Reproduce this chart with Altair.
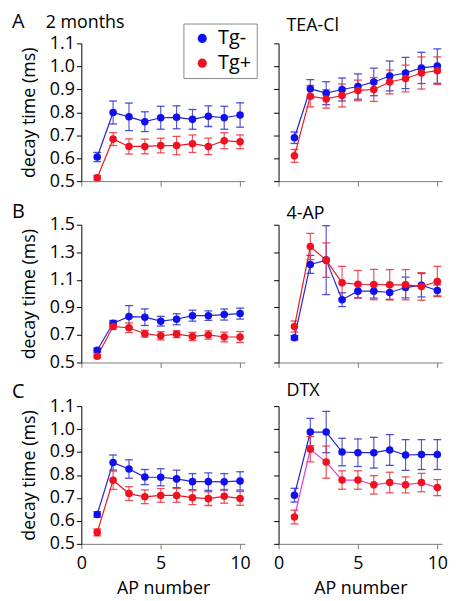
import altair as alt
import pandas as pd

FONT = "Open Sans"
AP = list(range(1, 11))
GROUPS = ["Tg-", "Tg+"]

# ---- panel data (mean, s.e.m.) ----
A1_minus = [0.605, 0.799, 0.780, 0.759, 0.776, 0.778, 0.769, 0.783, 0.776, 0.788]
A1_minus_err = [0.020, 0.050, 0.060, 0.043, 0.050, 0.050, 0.043, 0.045, 0.050, 0.053]
A1_plus = [0.515, 0.683, 0.651, 0.651, 0.655, 0.655, 0.663, 0.651, 0.676, 0.671]
A1_plus_err = [0.010, 0.028, 0.033, 0.032, 0.032, 0.040, 0.038, 0.036, 0.035, 0.030]

A2_minus = [0.689, 0.902, 0.883, 0.899, 0.912, 0.932, 0.958, 0.971, 0.993, 1.001]
A2_minus_err = [0.025, 0.040, 0.050, 0.050, 0.055, 0.060, 0.065, 0.068, 0.068, 0.075]
A2_plus = [0.610, 0.870, 0.858, 0.873, 0.895, 0.899, 0.932, 0.947, 0.971, 0.981]
A2_plus_err = [0.028, 0.047, 0.040, 0.050, 0.045, 0.052, 0.052, 0.058, 0.070, 0.060]

B1_minus = [0.589, 0.785, 0.833, 0.829, 0.800, 0.814, 0.840, 0.840, 0.848, 0.855]
B1_minus_err = [0.015, 0.020, 0.080, 0.060, 0.035, 0.040, 0.040, 0.035, 0.040, 0.040]
B1_plus = [0.546, 0.761, 0.752, 0.709, 0.694, 0.706, 0.689, 0.700, 0.685, 0.685]
B1_plus_err = [0.012, 0.020, 0.035, 0.025, 0.030, 0.025, 0.030, 0.030, 0.035, 0.040]

B2_minus = [0.680, 1.212, 1.243, 0.956, 1.018, 1.018, 1.008, 1.044, 1.061, 1.023]
B2_minus_err = [0.015, 0.065, 0.250, 0.050, 0.050, 0.050, 0.050, 0.075, 0.085, 0.040]
B2_plus = [0.761, 1.342, 1.243, 1.078, 1.068, 1.066, 1.064, 1.064, 1.052, 1.088]
B2_plus_err = [0.040, 0.095, 0.125, 0.120, 0.100, 0.110, 0.110, 0.110, 0.100, 0.110]

C1_minus = [0.628, 0.854, 0.826, 0.791, 0.790, 0.783, 0.771, 0.771, 0.770, 0.774]
C1_minus_err = [0.012, 0.033, 0.040, 0.033, 0.037, 0.038, 0.035, 0.038, 0.036, 0.040]
C1_plus = [0.550, 0.777, 0.719, 0.705, 0.711, 0.711, 0.701, 0.697, 0.707, 0.698]
C1_plus_err = [0.015, 0.040, 0.030, 0.030, 0.030, 0.030, 0.030, 0.030, 0.030, 0.030]

C2_minus = [0.712, 0.987, 0.987, 0.900, 0.897, 0.897, 0.909, 0.887, 0.889, 0.889]
C2_minus_err = [0.030, 0.060, 0.090, 0.060, 0.060, 0.067, 0.067, 0.067, 0.065, 0.065]
C2_plus = [0.617, 0.912, 0.856, 0.778, 0.778, 0.757, 0.767, 0.757, 0.767, 0.745]
C2_plus_err = [0.030, 0.055, 0.070, 0.040, 0.040, 0.040, 0.045, 0.035, 0.040, 0.035]

TICKS_SMALL = [0.5, 0.6, 0.7, 0.8, 0.9, 1.0, 1.1]
TICKS_LARGE = [0.5, 0.7, 0.9, 1.1, 1.3, 1.5]

PANELS = [
    dict(letter="A", title="2 months", m=A1_minus, me=A1_minus_err, p=A1_plus, pe=A1_plus_err,
         ticks=TICKS_SMALL, left=True, bottom=False, legend=True, ty=-16),
    dict(letter="", title="TEA-Cl", m=A2_minus, me=A2_minus_err, p=A2_plus, pe=A2_plus_err,
         ticks=TICKS_SMALL, left=False, bottom=False, legend=False, ty=-12),
    dict(letter="B", title="", m=B1_minus, me=B1_minus_err, p=B1_plus, pe=B1_plus_err,
         ticks=TICKS_LARGE, left=True, bottom=False, legend=False, ty=-7),
    dict(letter="", title="4-AP", m=B2_minus, me=B2_minus_err, p=B2_plus, pe=B2_plus_err,
         ticks=TICKS_LARGE, left=False, bottom=False, legend=False, ty=-6),
    dict(letter="C", title="", m=C1_minus, me=C1_minus_err, p=C1_plus, pe=C1_plus_err,
         ticks=TICKS_SMALL, left=True, bottom=True, legend=False, ty=-8),
    dict(letter="", title="DTX", m=C2_minus, me=C2_minus_err, p=C2_plus, pe=C2_plus_err,
         ticks=TICKS_SMALL, left=False, bottom=True, legend=False, ty=-10, magenta=True),
]

BLUE = "#1010ee"
RED = "#f01020"
BLUE_LINE = "#2424d0"
RED_LINE = "#e81820"
MAGENTA_LINE = "#e03ad8"
BLUE_ERR = "#3030d0"
RED_ERR = "#e83038"

W, H = 165, 139


def make_panel(spec):
    rows = []
    for g, means, errs in [("Tg-", spec["m"], spec["me"]), ("Tg+", spec["p"], spec["pe"])]:
        for a, mu, e in zip(AP, means, errs):
            rows.append(dict(group=g, ap=a, mean=mu, lo=mu - e, hi=mu + e))
    df = pd.DataFrame(rows)
    base = alt.Chart(df)

    xaxis = alt.Axis(values=[0, 5, 10], labels=spec["bottom"],
                     title="AP number" if spec["bottom"] else "",
                     domainColor="#7a7a7a", tickColor="#7a7a7a", tickSize=5,
                     labelPadding=6, titlePadding=7, labelFlush=False,
                     labelFontSize=18, titleFontSize=18)
    yaxis = alt.Axis(values=spec["ticks"], format=".1f", labels=spec["left"],
                     title="decay time (ms)" if spec["left"] else "",
                     domainColor="black", tickColor="black", tickSize=5,
                     labelPadding=2, titlePadding=11, labelOverlap=False,
                     labelFontSize=18, titleFontSize=18)
    xs = alt.Scale(domain=[0, 10.3], nice=False, zero=False)
    ys = alt.Scale(domain=[spec["ticks"][0], spec["ticks"][-1]], nice=False, zero=False)

    def X():
        return alt.X("ap:Q", scale=xs, axis=xaxis)

    def Y(f):
        return alt.Y(f"{f}:Q", scale=ys, axis=yaxis)

    layers = []
    for g, ecol, lcol in [("Tg-", BLUE_ERR, BLUE_LINE),
                          ("Tg+", RED_ERR, MAGENTA_LINE if spec.get("magenta") else RED_LINE)]:
        sub = base.transform_filter(alt.datum.group == g)
        layers.append(sub.mark_rule(color=ecol, strokeWidth=1.2, opacity=0.8)
                      .encode(x=X(), y=Y("lo"), y2="hi:Q"))
        layers.append(sub.mark_tick(color=ecol, orient="horizontal", size=8, thickness=1.3, opacity=0.85)
                      .encode(x=X(), y=Y("lo")))
        layers.append(sub.mark_tick(color=ecol, orient="horizontal", size=8, thickness=1.3, opacity=0.85)
                      .encode(x=X(), y=Y("hi")))
        layers.append(sub.mark_line(color=lcol, strokeWidth=1.2)
                      .encode(x=X(), y=Y("mean")))

    if spec["legend"]:
        leg = alt.Legend(title=None, orient="none", legendX=103, legendY=-20,
                         symbolType="circle", symbolSize=85, symbolStrokeWidth=0,
                         labelFontSize=20, labelFont=FONT, labelColor="black",
                         padding=5, rowPadding=5, symbolOffset=4, labelOffset=6,
                         strokeColor="#8a8a8a", fillColor="white")
    else:
        leg = None
    layers.append(base.mark_circle(size=58, opacity=1).encode(
        x=X(), y=Y("mean"),
        color=alt.Color("group:N", scale=alt.Scale(domain=GROUPS, range=[BLUE, RED]), legend=leg)))

    if spec["letter"]:
        layers.append(alt.Chart(pd.DataFrame({"t": [spec["letter"]]}))
                      .mark_text(align="left", baseline="alphabetic", fontSize=20, font=FONT, color="black")
                      .encode(x=alt.value(-70), y=alt.value(spec["ty"]), text="t:N"))
    if spec["title"]:
        tx = -36 if spec["left"] else 8
        layers.append(alt.Chart(pd.DataFrame({"t": [spec["title"]]}))
                      .mark_text(align="left", baseline="alphabetic", fontSize=18, font=FONT, color="black")
                      .encode(x=alt.value(tx), y=alt.value(spec["ty"]), text="t:N"))
    if spec["legend"]:
        # invisible anchor fixing the top-left corner of the figure
        layers.append(alt.Chart(pd.DataFrame({"a": [0]}))
                      .mark_rule(strokeOpacity=0, strokeWidth=1)
                      .encode(x=alt.value(-73), x2=alt.value(-72), y=alt.value(-31), y2=alt.value(-31)))

    return alt.layer(*layers).properties(width=W, height=H)


panels = [make_panel(s) for s in PANELS]

chart = (
    alt.concat(*panels, columns=2, spacing={"row": 44, "column": 34}, bounds="flush")
    .resolve_legend(color="independent")
    .properties(padding={"left": 0, "top": 0, "right": 4, "bottom": 4})
    .configure_view(stroke="transparent")
    .configure_axis(grid=False, labelFont=FONT, titleFont=FONT, labelColor="black",
                    titleColor="black", titleFontWeight="normal", domainWidth=1, tickWidth=1)
)

chart.save("out.html", embed_options={"renderer": "svg", "actions": False})
